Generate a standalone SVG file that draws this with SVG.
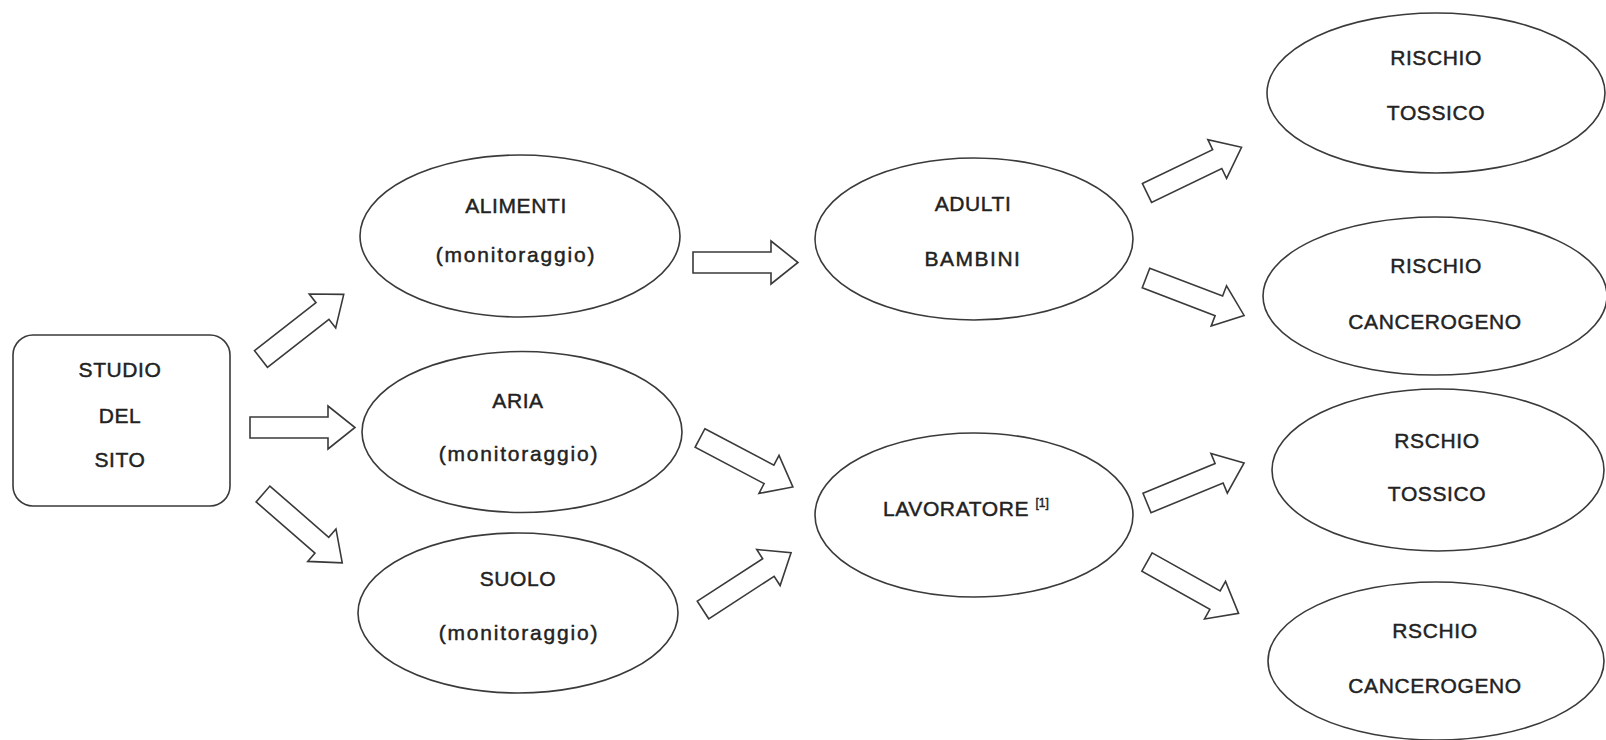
<svg xmlns="http://www.w3.org/2000/svg" width="1606" height="740" viewBox="0 0 1606 740">
<style>
.n{fill:#fff;stroke:#3a3a3a;stroke-width:1.6}
.t{font-family:"Liberation Sans",Arial,sans-serif;font-size:21px;fill:#222;stroke:#222;stroke-width:0.45px;text-anchor:middle;letter-spacing:0.6px}
.m{letter-spacing:1.8px}
.s{font-size:12px;letter-spacing:0}
.a{fill:#fff;stroke:#3a3a3a;stroke-width:1.6;stroke-linejoin:miter}
</style>
<defs>
<path id="arr" d="M0,-10.5 H78 V-21.5 L105,0 L78,21.5 V10.5 H0 Z"/>
</defs>
<rect width="1606" height="740" fill="#fff"/>
<g id="connectors">
<use href="#arr" class="a" transform="translate(261,359) rotate(-38)"/>
<use href="#arr" class="a" transform="translate(250,427.5)"/>
<use href="#arr" class="a" transform="translate(263,494) rotate(41)"/>
<use href="#arr" class="a" transform="translate(693,262.5)"/>
<use href="#arr" class="a" transform="translate(700,438) rotate(27.8)"/>
<use href="#arr" class="a" transform="translate(703,610) rotate(-33)"/>
<use href="#arr" class="a" transform="translate(1147,193) rotate(-25.8)"/>
<use href="#arr" class="a" transform="translate(1146,278) rotate(20.9)"/>
<use href="#arr" class="a" transform="translate(1147,503) rotate(-22.4)"/>
<use href="#arr" class="a" transform="translate(1147,562) rotate(29.3)"/>
</g>
<g id="studio">
<rect class="n" x="13" y="335" width="217" height="171" rx="20"/>
<text class="t" x="120" y="377">STUDIO</text>
<text class="t" x="120" y="423">DEL</text>
<text class="t" x="120" y="467">SITO</text>
</g>
<g id="alimenti">
<ellipse class="n" cx="520" cy="236" rx="160" ry="81"/>
<text class="t" x="516" y="213">ALIMENTI</text>
<text class="t m" x="516" y="262">(monitoraggio)</text>
</g>
<g id="aria">
<ellipse class="n" cx="522" cy="432" rx="160" ry="80.5"/>
<text class="t" x="518" y="408">ARIA</text>
<text class="t m" x="519" y="461">(monitoraggio)</text>
</g>
<g id="suolo">
<ellipse class="n" cx="518" cy="613" rx="160" ry="80"/>
<text class="t" x="518" y="586">SUOLO</text>
<text class="t m" x="519" y="640">(monitoraggio)</text>
</g>
<g id="adulti">
<ellipse class="n" cx="974" cy="239" rx="159" ry="81"/>
<text class="t" x="973" y="211">ADULTI</text>
<text class="t" x="973" y="266" style="letter-spacing:1.5px">BAMBINI</text>
</g>
<g id="lavoratore">
<ellipse class="n" cx="974" cy="515" rx="159" ry="82"/>
<text class="t" x="883" y="516" style="text-anchor:start">LAVORATORE <tspan class="s" dy="-9">[1]</tspan></text>
</g>
<g id="rischio-tossico">
<ellipse class="n" cx="1436" cy="93" rx="169" ry="80"/>
<text class="t" x="1436" y="65">RISCHIO</text>
<text class="t" x="1436" y="120">TOSSICO</text>
</g>
<g id="rischio-cancerogeno">
<ellipse class="n" cx="1435" cy="296" rx="172" ry="79"/>
<text class="t" x="1436" y="273">RISCHIO</text>
<text class="t" x="1435" y="329">CANCEROGENO</text>
</g>
<g id="rschio-tossico">
<ellipse class="n" cx="1438" cy="470" rx="166" ry="81"/>
<text class="t" x="1437" y="448">RSCHIO</text>
<text class="t" x="1437" y="501">TOSSICO</text>
</g>
<g id="rschio-cancerogeno">
<ellipse class="n" cx="1436" cy="661" rx="168" ry="79"/>
<text class="t" x="1435" y="638">RSCHIO</text>
<text class="t" x="1435" y="693">CANCEROGENO</text>
</g>
</svg>
